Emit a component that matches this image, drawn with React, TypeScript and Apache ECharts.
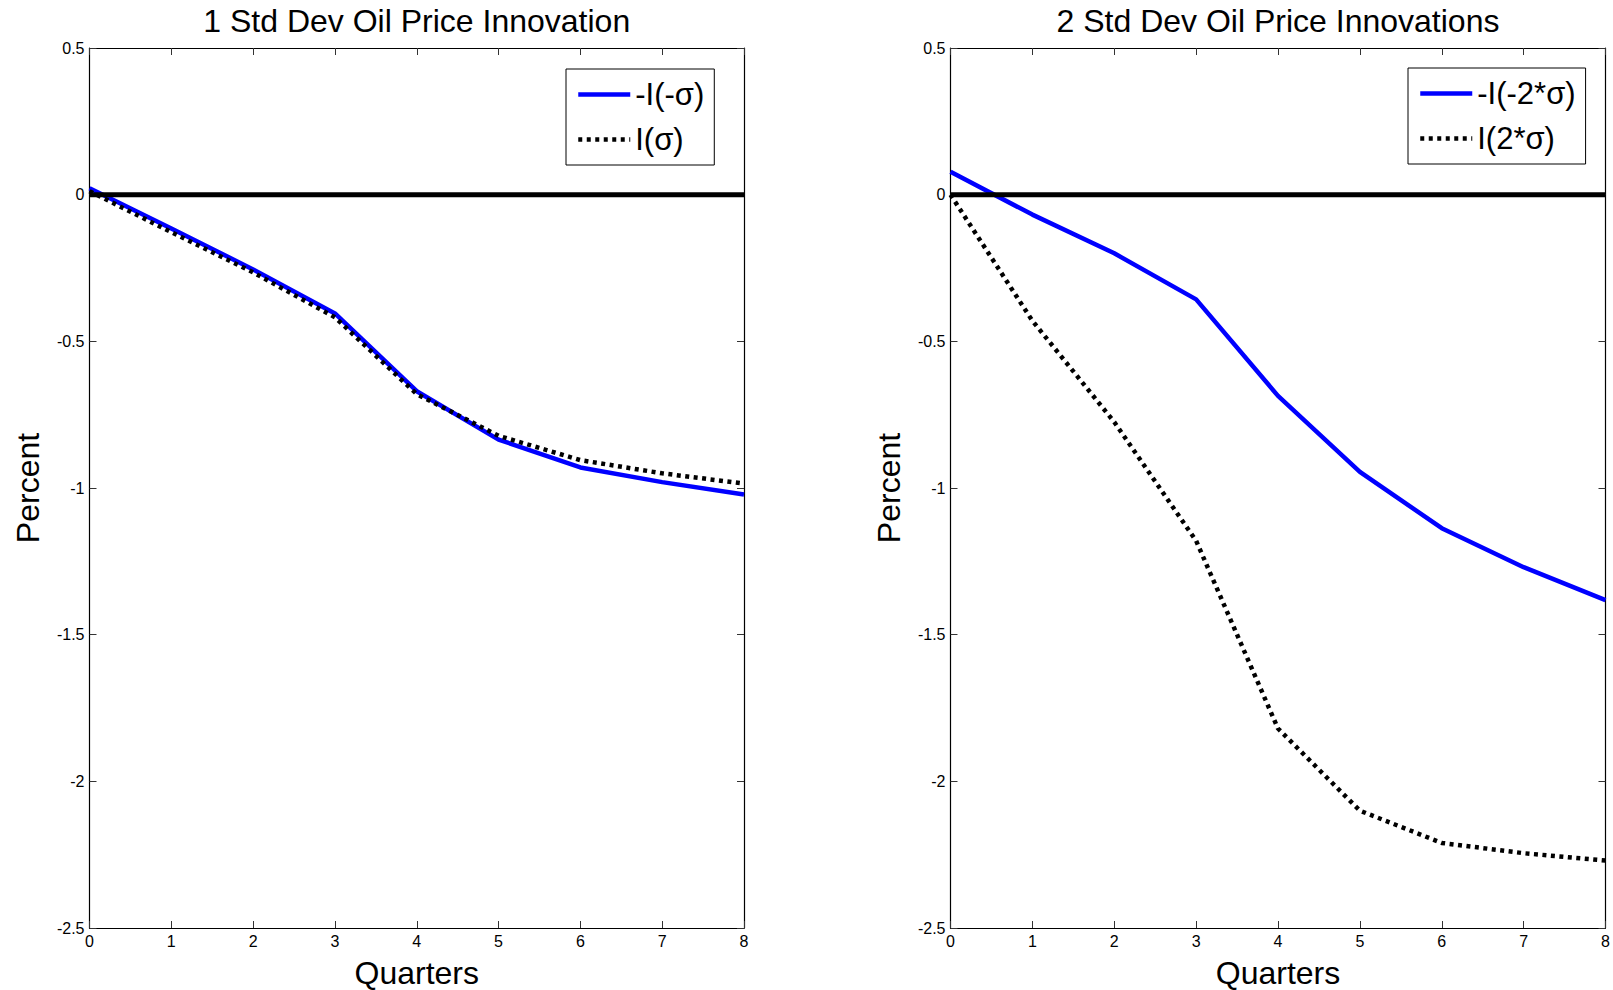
import React, { useEffect, useRef } from "react";
import * as echarts from "echarts";

const quarters = [0, 1, 2, 3, 4, 5, 6, 7, 8];
const titles = ["1 Std Dev Oil Price Innovation", "2 Std Dev Oil Price Innovations"];
const leftNames = ["-I(-σ)", "I(σ)"];
const rightNames = ["-I(-2*σ)", "I(2*σ)"];
const leftNeg = [0.022, -0.115, -0.255, -0.405, -0.67, -0.835, -0.93, -0.98, -1.022];
const leftPos = [0.012, -0.128, -0.265, -0.418, -0.68, -0.822, -0.905, -0.95, -0.985];
const rightNeg = [0.078, -0.068, -0.2, -0.357, -0.686, -0.945, -1.137, -1.27, -1.382];
const rightPos = [0.0, -0.43, -0.775, -1.18, -1.82, -2.1, -2.21, -2.245, -2.27];
const zeroLine = [0, 0, 0, 0, 0, 0, 0, 0, 0];
const yTicks = { min: -2.5, max: 0.5, interval: 0.5 };

const FONT = "'Liberation Sans', Arial, Helvetica, sans-serif";

const pairs = (vals: number[]) => quarters.map((q, i) => [q, vals[i]]);

export default function App() {
  const ref = useRef<HTMLDivElement>(null);
  useEffect(() => {
    if (!ref.current) return;
    const chart = echarts.init(ref.current, null, { renderer: "svg" });
    const grids = [
      { left: 89.5, top: 48, width: 654.5, height: 880, outerBoundsMode: "none", containLabel: false },
      { left: 950.5, top: 48, width: 655, height: 880, outerBoundsMode: "none", containLabel: false },
    ];
    const xAxes: any[] = [];
    const yAxes: any[] = [];
    grids.forEach((g, gi) => {
      const base = {
        gridIndex: gi,
        type: "value",
        min: 0,
        max: 8,
        interval: 1,
        axisLine: { show: true, onZero: false, lineStyle: { color: "#000", width: 1.2 } },
        axisTick: { show: true, inside: true, length: 7, lineStyle: { color: "#333", width: 1 } },
        splitLine: { show: false },
      };
      xAxes.push({
        ...base,
        position: "bottom",
        axisLabel: { show: true, color: "#000", fontSize: 16, fontFamily: FONT, margin: 5 },
        name: "Quarters",
        nameLocation: "middle",
        nameGap: 29,
        nameTextStyle: { color: "#000", fontSize: 32, fontFamily: FONT },
      });
      xAxes.push({ ...base, position: "top", axisLabel: { show: false } });
      const ybase = {
        gridIndex: gi,
        type: "value",
        min: yTicks.min,
        max: yTicks.max,
        interval: yTicks.interval,
        axisLine: { show: true, onZero: false, lineStyle: { color: "#000", width: 1.2 } },
        axisTick: { show: true, inside: true, length: 7, lineStyle: { color: "#333", width: 1 } },
        splitLine: { show: false },
      };
      yAxes.push({
        ...ybase,
        position: "left",
        axisLabel: { show: true, color: "#000", fontSize: 16, fontFamily: FONT, margin: 5 },
        name: "Percent",
        nameLocation: "middle",
        nameGap: 46,
        nameTextStyle: { color: "#000", fontSize: 32, fontFamily: FONT },
      });
      yAxes.push({ ...ybase, position: "right", axisLabel: { show: false } });
    });

    const dotted = { color: "#000", width: 4.5, type: [4, 4.5], cap: "butt" };
    const solid = { color: "#0000ff", width: 4.5 };
    const mk = (name: string, data: number[], gi: number, lineStyle: any, z = 3) => ({
      name,
      type: "line",
      xAxisIndex: gi * 2,
      yAxisIndex: gi * 2,
      data: pairs(data),
      symbol: "none",
      showSymbol: false,
      lineStyle,
      itemStyle: { color: lineStyle.color },
      z,
    });

    const legendItems = (names: string[]) => [
      { name: names[0], lineStyle: { ...solid }, itemStyle: { opacity: 0 } },
      { name: names[1], lineStyle: { ...dotted }, itemStyle: { opacity: 0 } },
    ];

    const legendBase = {
      orient: "vertical",
      backgroundColor: "#fff",
      borderColor: "#000",
      borderWidth: 1,
      padding: [10, 10, 10, 10],
      itemWidth: 52,
      itemHeight: 14,
      itemGap: 14,
      itemStyle: { opacity: 0 },
      textStyle: { color: "#000", fontSize: 31, fontFamily: FONT },
      selectedMode: false,
    };

    chart.setOption({
      animation: false,
      backgroundColor: "#fff",
      grid: grids,
      xAxis: xAxes,
      yAxis: yAxes,
      legend: [
        { ...legendBase, data: legendItems(leftNames), left: 566, top: 69 },
        { ...legendBase, data: legendItems(rightNames), left: 1408, top: 68 },
      ],
      graphic: titles.map((t, i) => ({
        type: "text",
        x: grids[i].left + grids[i].width / 2,
        y: 21,
        style: {
          text: t,
          fill: "#000",
          font: `32px ${FONT}`,
          textAlign: "center",
          textVerticalAlign: "middle",
        },
      })),
      series: [
        mk("zero0", zeroLine, 0, { color: "#000", width: 5 }, 4),
        mk(leftNames[0], leftNeg, 0, solid),
        mk(leftNames[1], leftPos, 0, dotted),
        mk("zero1", zeroLine, 1, { color: "#000", width: 5 }, 4),
        mk(rightNames[0], rightNeg, 1, solid),
        mk(rightNames[1], rightPos, 1, dotted),
      ],
    });
    return () => chart.dispose();
  }, []);
  return (
    <div
      ref={ref}
      style={{ position: "absolute", left: 0, top: 0, width: 1613, height: 990 }}
    />
  );
}
